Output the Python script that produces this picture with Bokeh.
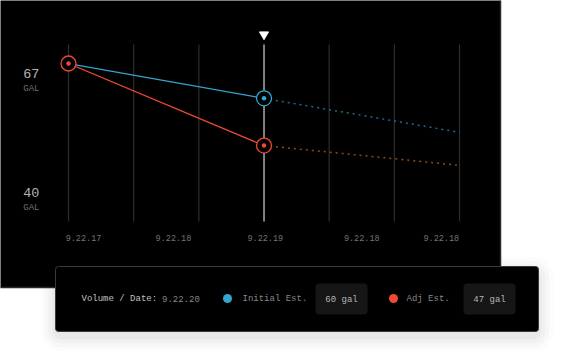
from bokeh.plotting import figure
from bokeh.models import Range1d
from bokeh.core.properties import value
from bokeh.embed import file_html
from bokeh.resources import INLINE

# ---- data ----
grid_idx = [0, 1, 2, 3, 4, 5, 6]
date_labels = ["9.22.17", "9.22.18", "9.22.19", "9.22.18", "9.22.18"]
date_label_pos = [0.23, 1.61, 3.02, 4.5, 5.72]
y_ticks = [67, 40]
y_tick_labels = ["67", "40"]
unit_label = "GAL"
solid_x = [0, 3]
dotted_x = [3, 6]
initial_solid = [67, 59.1]
initial_dotted = [59.1, 51.4]
adjusted_solid = [67, 48.4]
adjusted_dotted = [48.4, 43.9]
highlight_idx = 3
legend_date = "9.22.20"
initial_est = 60
adj_est = 47

BLUE = "#33a6cf"
RED = "#ef4a34"
BLUE_DIM = "#1d6d8c"
RED_DIM = "#8c4b1e"
MONO = value("Liberation Mono")

p = figure(width=559, height=353,
           x_range=Range1d(-1.0434, 7.534), y_range=Range1d(1.24, 81.29),
           output_backend="svg", toolbar_location=None, min_border=0,
           x_axis_location=None, y_axis_location=None,
           outline_line_color=None, background_fill_color="white",
           border_fill_color="white")
p.grid.visible = False
p.extra_x_ranges = {"px": Range1d(0, 559)}
p.extra_y_ranges = {"px": Range1d(353, 0)}

# main dark panel
p.quad(left=[-10], right=[500], top=[-10], bottom=[287], x_range_name="px", y_range_name="px",
       fill_color="black", line_color="#2b2b2b", line_width=1.5, border_radius=6)

# grid lines
p.segment(x0=grid_idx, x1=grid_idx, y0=[44] * 7, y1=[221] * 7, y_range_name="px",
          line_color="#2e2e2e", line_width=1.2)
p.segment(x0=[highlight_idx], x1=[highlight_idx], y0=[44], y1=[221], y_range_name="px",
          line_color="#c4c4c4", line_width=1.2)
p.scatter(x=[highlight_idx], y=[34], y_range_name="px", marker="inverted_triangle",
          size=9, fill_color="white", line_color="white")

# lines
p.line(dotted_x, initial_dotted, line_color=BLUE_DIM, line_width=1.5, line_dash="2 4")
p.line(dotted_x, adjusted_dotted, line_color=RED_DIM, line_width=1.5, line_dash="2 4")
p.line(solid_x, initial_solid, line_color=BLUE, line_width=1.3)
p.line(solid_x, adjusted_solid, line_color=RED, line_width=1.3)

# markers
for xs, ys, c in [([3], [initial_solid[1]], BLUE), ([0, 3], [adjusted_solid[0], adjusted_solid[1]], RED)]:
    p.scatter(xs, ys, size=15, fill_color="black", line_color=c, line_width=1.3)
    p.scatter(xs, ys, size=4.5, fill_color=c, line_color=None)

# y labels
p.text(x=[-0.57] * 2, y=y_ticks, text=y_tick_labels, text_font=MONO, text_font_size="13.5px",
       text_color="#b4b4b4", text_align="center", text_baseline="top", y_offset=5)
p.text(x=[-0.57] * 2, y=y_ticks, text=[unit_label] * 2, text_font=MONO, text_font_size="9px",
       text_color="#707070", text_align="center", text_baseline="top", y_offset=20)

# x labels
p.text(x=date_label_pos, y=[237] * 5, y_range_name="px", text=date_labels, text_font=MONO,
       text_font_size="8.5px", text_color="#747474", text_align="center", text_baseline="middle")

# legend panel shadow
for i, a in enumerate([0.03, 0.025, 0.018, 0.012]):
    d = 3 + i * 4
    p.quad(left=[55 - d], right=[538 + d], top=[266 - d + 5], bottom=[331 + d + 5],
           x_range_name="px", y_range_name="px", fill_color="black", fill_alpha=a,
           line_color=None, border_radius=6 + d)
p.quad(left=[55], right=[538], top=[266], bottom=[331], x_range_name="px", y_range_name="px",
       fill_color="black", line_color="#3a3a3a", line_width=1, border_radius=3)

# value boxes
p.quad(left=[315, 463], right=[367, 515], top=[283, 283], bottom=[314, 314],
       x_range_name="px", y_range_name="px", fill_color="#161616", line_color=None,
       border_radius=4)

# legend texts
p.text(x=[81], y=[298], x_range_name="px", y_range_name="px", text=["Volume / Date:"],
       text_font=MONO, text_font_size="9px", text_color="#c0c0c0", text_baseline="middle")
p.text(x=[161.5], y=[298], x_range_name="px", y_range_name="px", text=[legend_date],
       text_font=MONO, text_font_size="9px", text_color="#868686", text_baseline="middle")
p.scatter(x=[227, 393], y=[298, 298], x_range_name="px", y_range_name="px", size=9,
          fill_color=[BLUE, RED], line_color=None)
p.text(x=[242, 406], y=[298, 298], x_range_name="px", y_range_name="px",
       text=["Initial Est.", "Adj Est."], text_font=MONO, text_font_size="9px",
       text_color="#868686", text_baseline="middle")
p.text(x=[341, 489], y=[299, 299], x_range_name="px", y_range_name="px",
       text=[f"{initial_est} gal", f"{adj_est} gal"], text_font=MONO, text_font_size="9px",
       text_color="#b4b4b4", text_align="center", text_baseline="middle")

open("out.html", "w").write(file_html(p, INLINE))
